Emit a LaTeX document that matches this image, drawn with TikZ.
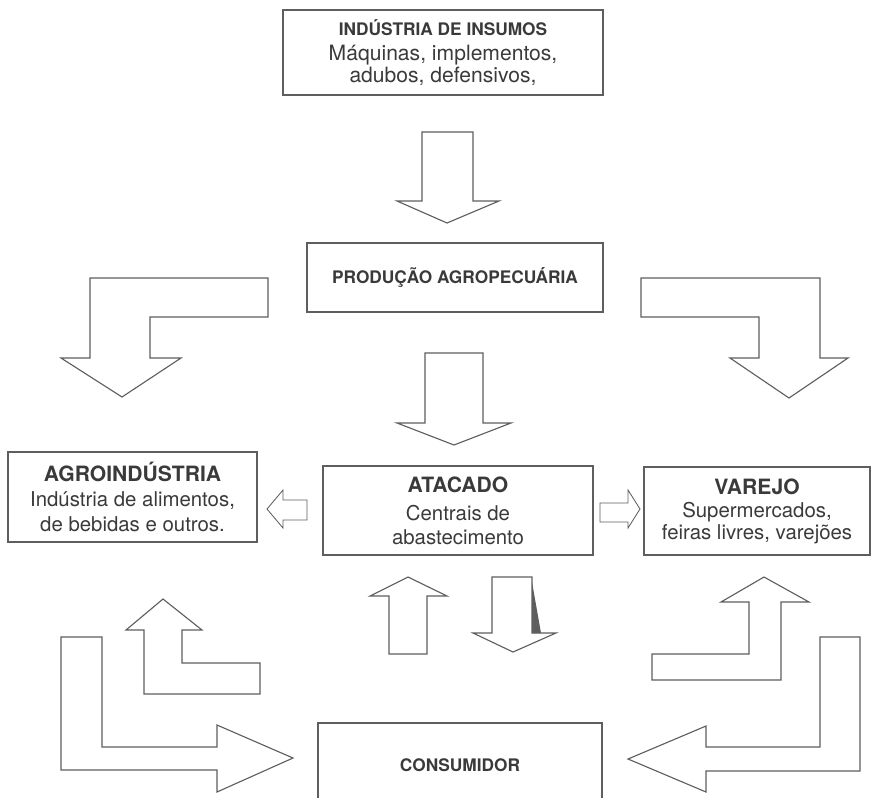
\documentclass[tikz,border=0pt]{standalone}
\usepackage{fontspec}
\setmainfont{TeX Gyre Heros}
\usepackage{tikz}
\usepackage{xcolor}
\usetikzlibrary{positioning}
\definecolor{Linha}{HTML}{5E5E5E}
\definecolor{Texto}{HTML}{3A3A3A}

\begin{document}
\begin{tikzpicture}[x=0.025cm, y=-0.025cm,
    caixa/.style={draw=Linha, line width=0.9pt, align=center, inner sep=0pt, text=Texto},
    bloco/.style={draw=Linha, line width=0.8pt, fill=white, line join=miter},
    titulo/.style={font=\fontsize{12.3}{15}\selectfont\bfseries}]
    \useasboundingbox (0,0) rectangle (872,797);

    % Boxes
    \node[caixa, font=\fontsize{15}{15.5}\selectfont, minimum width=8cm, minimum height=2.125cm] (insumos) at (443,52.5)
        {{\fontsize{12.3}{15.5}\selectfont\bfseries INDÚSTRIA DE INSUMOS}\\[2pt]
         Máquinas, implementos,\\
         adubos, defensivos,};
    \node[caixa, titulo, minimum width=7.4cm, minimum height=1.725cm] (producao) at (455,277.5)
        {PRODUÇÃO AGROPECUÁRIA};
    \node[caixa, font=\fontsize{14.5}{16.5}\selectfont, minimum width=6.75cm, minimum height=2.225cm] (atacado) at (458,510.5)
        {{\fontsize{15}{16.5}\selectfont\bfseries ATACADO}\\[4pt]
         Centrais de\\
         abastecimento};
    \node[caixa, font=\fontsize{14.5}{18}\selectfont, minimum width=6.225cm, minimum height=2.25cm] (agro) at (132.5,497)
        {{\fontsize{15}{18}\selectfont\bfseries AGROINDÚSTRIA}\\
         Indústria de alimentos,\\
         de bebidas e outros.};
    \node[caixa, font=\fontsize{14.5}{15.5}\selectfont, minimum width=5.65cm, minimum height=2.2cm] (varejo) at (757,511)
        {{\fontsize{15}{15.5}\selectfont\bfseries VAREJO}\\[1pt]
         Supermercados,\\
         feiras livres, varejões};
    \node[caixa, titulo, minimum width=7.1cm, minimum height=2.1cm] (consumidor) at (460,765)
        {CONSUMIDOR};

    % Straight arrows
    \draw[bloco] (422,132) -- (473,132) -- (473,201) -- (499,201) -- (447,223) -- (397,201) -- (422,201) -- cycle;  % insumos -> producao
    \draw[bloco] (425,353) -- (483,353) -- (483,423) -- (511,423) -- (454,445) -- (397,423) -- (425,423) -- cycle;  % producao -> atacado

    % Bent arrows from producao
    \draw[bloco] (90,278) -- (268,278) -- (268,317) -- (150,317) -- (150,358) -- (181,358) -- (122,397) -- (61,358) -- (90,358) -- cycle;  % -> agro
    \draw[bloco] (641,278) -- (820,278) -- (820,358) -- (848,358) -- (789,398) -- (730,358) -- (759,358) -- (759,317) -- (641,317) -- cycle;  % -> varejo

    % Small arrows from atacado
    \draw[bloco, line width=0.6pt] (307,500) -- (307,520) -- (283,520) -- (283,528) -- (267,509) -- (283,490) -- (283,500) -- cycle;  % -> agro
    \draw[bloco, line width=0.6pt] (600,503) -- (628,503) -- (628,490) -- (640,509) -- (628,528) -- (628,522) -- (600,522) -- cycle;  % -> varejo

    % Arrows between atacado and consumidor
    \draw[bloco] (389,654) -- (389,596) -- (370,596) -- (408,577) -- (447,596) -- (427,596) -- (427,654) -- cycle;  % up
    \draw[bloco] (492,577) -- (532,577) -- (532,633) -- (556,633) -- (513,652) -- (473,633) -- (492,633) -- cycle;  % down
    \fill[Linha] (532,582) -- (541,633) -- (532,633) -- cycle;

    % Arrows between consumidor and agro / varejo
    \draw[bloco] (144,694) -- (144,630) -- (126,630) -- (163,599) -- (202,630) -- (182,630) -- (182,663) -- (260,663) -- (260,694) -- cycle;  % -> agro
    \draw[bloco] (61,637) -- (102,637) -- (102,747) -- (217,747) -- (217,725) -- (293,758) -- (217,792) -- (217,770) -- (61,770) -- cycle;  % agro -> consumidor
    \draw[bloco] (652,680) -- (652,654) -- (749,654) -- (749,602) -- (721,602) -- (764,577) -- (809,602) -- (781,602) -- (781,680) -- cycle;  % -> varejo
    \draw[bloco] (860,637) -- (820,637) -- (820,747) -- (706,747) -- (706,726) -- (628,759) -- (706,792) -- (706,771) -- (860,771) -- cycle;  % varejo -> consumidor
\end{tikzpicture}
\end{document}
